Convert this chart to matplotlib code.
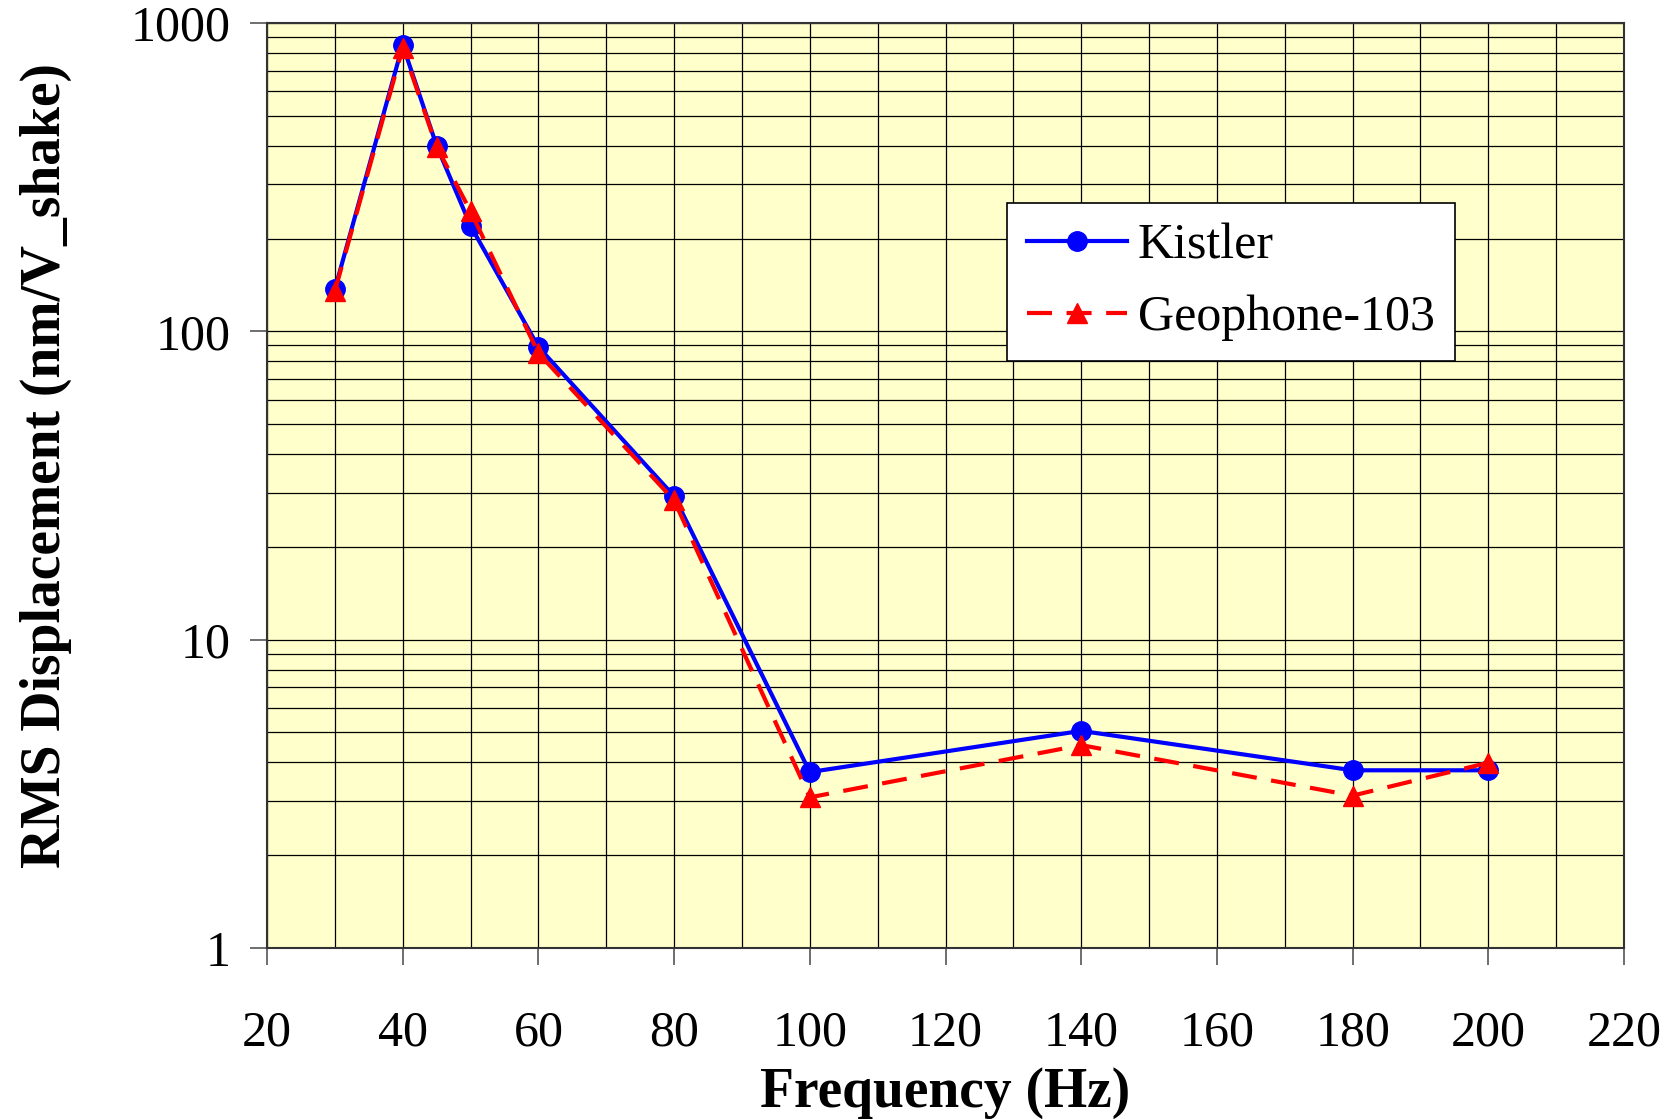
import matplotlib
matplotlib.use('Agg')
import matplotlib.pyplot as plt
from matplotlib.ticker import FixedLocator, LogLocator, NullFormatter

plt.rcParams['font.family'] = ['Liberation Serif', 'DejaVu Serif']

freq = [30, 40, 45, 50, 60, 80, 100, 140, 180, 200]
kistler = [137, 849, 400, 220, 89, 29.2, 3.72, 5.06, 3.77, 3.77]
geophone = [135, 830, 397, 245, 85, 28.3, 3.08, 4.55, 3.12, 3.99]
xticks = list(range(20, 221, 20))

fig = plt.figure(figsize=(16.79, 11.19), dpi=100)
ax = fig.add_axes([267 / 1679, 1 - 948 / 1119, 1357 / 1679, 925 / 1119])
ax.set_facecolor('#FFFFCC')

ax.plot(freq, kistler, color='#0000FF', lw=3, marker='o', ms=14,
        label='Kistler', zorder=4)
ax.plot(freq, geophone, color='#FF0000', lw=3, marker='^', ms=15,
        dashes=[6, 3.5], label='Geophone-103', zorder=5)

ax.set_yscale('log')
ax.set_xlim(20, 220)
ax.set_ylim(1, 1000)
ax.set_xticks(xticks)
ax.xaxis.set_minor_locator(FixedLocator(range(20, 221, 10)))
ax.yaxis.set_minor_locator(LogLocator(base=10, subs=range(2, 10)))
ax.yaxis.set_minor_formatter(NullFormatter())
ax.set_yticks([1, 10, 100, 1000])
ax.set_yticklabels(['1', '10', '100', '1000'])

ax.grid(True, which='both', color='black', lw=0.9)
ax.set_axisbelow(True)
ax.tick_params(which='major', direction='out', length=12, width=1.2,
               labelsize=36, color='#555555')
ax.tick_params(axis='x', pad=33)
ax.tick_params(axis='y', pad=14)
ax.tick_params(which='minor', length=0)
for s in ax.spines.values():
    s.set_color('#333333')
    s.set_linewidth(1.5)

ax.set_xlabel('Frequency (Hz)', fontsize=40, fontweight='bold', labelpad=7)
ax.set_ylabel('RMS Displacement (nm/V_shake)', fontsize=40,
              fontweight='bold')
ax.yaxis.set_label_coords(-0.144, 0.522)

leg = ax.legend(loc='upper left', bbox_to_anchor=(0.545, 0.805),
                borderaxespad=0, fontsize=36, fancybox=False,
                framealpha=1, edgecolor='black', handlelength=2.0,
                handletextpad=0.22, borderpad=0.4, labelspacing=0.5)
leg.get_frame().set_linewidth(1.2)

fig.savefig('out.png', dpi=100)
